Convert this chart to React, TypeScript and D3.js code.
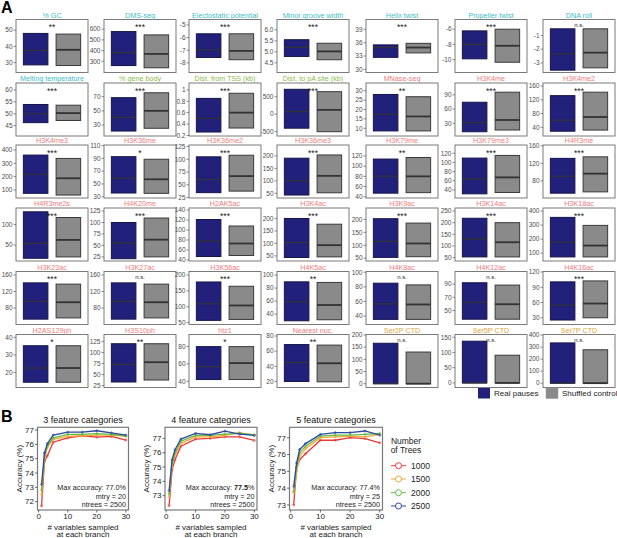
import { useEffect, useRef } from 'react';
import * as d3 from 'd3';

// ---- Panel A data ----
const panelTitles = [
  '% GC', 'DMS-seq', 'Electostatic potential', 'Minor groove width', 'Helix twist', 'Propeller twist', 'DNA roll',
  'Melting temperature', '% gene body', 'Dist. from TSS (kb)', 'Dist. to pA site (kb)', 'MNase-seq', 'H3K4me', 'H3K4me2',
  'H3K4me3', 'H3K36me', 'H3K36me2', 'H3K36me3', 'H3K79me', 'H3K79me3', 'H4R3me',
  'H4R3me2s', 'H4K20me', 'H2AK5ac', 'H3K4ac', 'H3K9ac', 'H3K14ac', 'H3K18ac',
  'H3K23ac', 'H3K27ac', 'H3K56ac', 'H4K5ac', 'H4K8ac', 'H4K12ac', 'H4K16ac',
  'H2AS129ph', 'H3S10ph', 'htz1', 'Nearest nuc.', 'Ser2P CTD', 'Ser5P CTD', 'Ser7P CTD',
];

const titleGroups = [
  'dna', 'dna', 'dna', 'dna', 'dna', 'dna', 'dna',
  'dna', 'gene', 'gene', 'gene', 'chrom', 'chrom', 'chrom',
  'chrom', 'chrom', 'chrom', 'chrom', 'chrom', 'chrom', 'chrom',
  'chrom', 'chrom', 'chrom', 'chrom', 'chrom', 'chrom', 'chrom',
  'chrom', 'chrom', 'chrom', 'chrom', 'chrom', 'chrom', 'chrom',
  'chrom', 'chrom', 'chrom', 'chrom', 'pol', 'pol', 'pol',
];

const sigLabels = [
  '**', '***', '***', '***', '***', '***', 'n.s.',
  '***', '***', '***', '***', '**', '***', '***',
  '***', '*', '***', '***', '**', '***', '***',
  '***', '***', '***', '***', '***', '***', '***',
  '***', 'n.s.', '***', '**', 'n.s.', 'n.s.', '***',
  '*', '**', '*', '**', 'n.s.', 'n.s.', 'n.s.',
];

const yLo = [
  23.9, 195, -8.76, 4.06, 29.3, -11.7, -3.7,
  40.7, 14.5, 0.19, -623, 5.9, 3.2, 14.8,
  40, 28, 24, 31, 37.5, 22.6, 41,
  10.8, 16, 38, 29.5, 39, 35.5, 44,
  40, 40, 44, 24, 28.5, 29, 16.7,
  11.4, 20.5, 32.8, 12, -15.6, -15, -36,
];

const yHi = [
  56.6, 691, -4.57, 6.47, 41.2, -4.72, 0.17,
  62.9, 89.3, 1.12, 891, 34.1, 115, 168.7,
  437.6, 111, 128, 244, 141.6, 138, 162,
  140.8, 131.7, 144, 242, 244.5, 263, 422,
  168.6, 168.6, 211, 105.5, 101, 109, 121,
  41.6, 141, 94, 82, 202, 159, 405,
];

const tickLabels = [
  ['30', '40', '50'], ['300', '400', '500', '600'], ['-8', '-7', '-6', '-5'], ['4.5', '5.0', '5.5', '6.0'],
  ['30', '33', '36', '39'], ['-10', '-8', '-6'], ['-3', '-2', '-1'],
  ['45', '50', '55', '60'], ['30', '50', '70'], ['0.2', '0.4', '0.6', '0.8', '1'], ['-500', '0', '500'],
  ['10', '15', '20', '25', '30'], ['30', '60', '90'], ['40', '80', '120', '160'],
  ['100', '200', '300', '400'], ['30', '50', '70', '90', '110'], ['25', '50', '75', '100', '125'],
  ['50', '100', '150', '200'], ['40', '60', '80', '100', '120'], ['40', '60', '80', '100', '120'], ['80', '120', '160'],
  ['50', '100'], ['25', '50', '75', '100', '125'], ['40', '60', '80', '100', '120', '140'], ['50', '100', '150', '200'],
  ['50', '100', '150', '200'], ['50', '100', '150', '200', '250'], ['100', '200', '300', '400'],
  ['80', '120', '160'], ['80', '120', '160'], ['50', '100', '150', '200'], ['40', '60', '80', '100'],
  ['40', '60', '80', '100'], ['50', '70', '90'], ['30', '60', '90', '120'],
  ['20', '30', '40'], ['25', '50', '75', '100', '125'], ['40', '60', '80'], ['20', '40', '60', '80'],
  ['0', '50', '100', '150', '200'], ['0', '50', '100', '150'], ['0', '100', '200', '300', '400'],
];

// [lower hinge, median, upper hinge]
const realStats = [
  [28.6, 37.5, 48.0], [260, 381, 578], [-7.57, -6.98, -5.7], [4.79, 5.2, 5.55], [32.7, 34.9, 35.5], [-9.9, -8.0, -6.22], [-3.53, -2.34, -0.51],
  [46.3, 50.0, 53.9], [21.5, 40.8, 68.6], [0.26, 0.5, 0.85], [-400, 74, 711], [8.6, 17.5, 28.0], [12.2, 31.3, 74.4], [28.7, 60.6, 132],
  [75, 218, 362], [35.8, 58.9, 92.7], [34.5, 60.4, 104.8], [43, 100, 191], [47, 80.4, 114], [31.7, 63.9, 109.5], [52, 90.6, 131.5],
  [17.5, 54, 131.5], [21, 55, 100], [47, 78, 121], [43.6, 103.7, 200], [53, 115, 203], [53, 130, 219], [73, 178, 355],
  [53, 96, 141], [53, 96, 141], [57, 109, 178], [29.7, 59, 89.6], [35.5, 56.7, 85], [37, 62.7, 92], [25.5, 54.8, 100.6],
  [14.4, 22.5, 35.2], [33, 73, 120], [42, 57, 80], [20, 45, 68.7], [0, 0, 166], [0, 0, 137], [0, 0, 335],
];

const shufStats = [
  [28.2, 37.9, 47.6], [239, 369, 547], [-7.75, -7.05, -5.7], [4.64, 5.02, 5.39], [33.7, 34.9, 35.85], [-10.35, -8.18, -6.0], [-3.36, -2.25, -0.51],
  [47.2, 50.3, 53.6], [25.4, 50, 75.5], [0.33, 0.6, 0.94], [-500, 123, 643], [8.6, 16.3, 26.8], [15.8, 37, 95.6], [32, 70, 142],
  [62, 188, 337], [35.3, 57.3, 88.7], [37.5, 67, 107.9], [52, 120, 204], [48, 80, 117], [34.6, 67.5, 115.3], [55, 96.6, 135],
  [20.8, 62.5, 117.5], [25, 62.6, 109.8], [49, 73, 108], [46, 93, 177], [55.6, 107, 186], [53, 116, 200], [73, 154, 298],
  [56, 94, 138], [56, 94, 138], [60, 104, 164.5], [31.3, 54, 88.7], [35.5, 55.9, 82.7], [37, 59.6, 88.5], [29.9, 58, 102.5],
  [14.4, 22.5, 35.2], [37.5, 78, 120], [42, 61, 80], [19.5, 44, 68], [0, 0, 130], [0, 0, 91], [0, 0, 278],
];

const groupNames = ['Real pauses', 'Shuffled control'];

// ---- Panel B data ----
const mtry = [1, 2, 3, 5, 10, 15, 20, 25, 30];
const treeCounts = ['1000', '1500', '2000', '2500'];
const cat3Acc = [
  [71.7, 74.8, 75.2, 76.15, 76.45, 76.6, 76.5, 76.55, 76.3],
  [72.5, 75.0, 75.8, 76.35, 76.55, 76.6, 76.65, 76.65, 76.55],
  [72.8, 75.2, 75.9, 76.45, 76.7, 76.7, 76.75, 76.7, 76.6],
  [73.2, 75.4, 76.05, 76.65, 76.85, 76.85, 76.95, 76.8, 76.65],
];
const cat4Acc = [
  [72.3, 74.8, 75.5, 76.45, 76.95, 77.0, 77.1, 77.1, 76.85],
  [72.9, 75.1, 75.8, 76.65, 77.1, 77.1, 77.2, 77.4, 77.2],
  [73.1, 75.3, 76.0, 76.8, 77.2, 77.2, 77.3, 77.35, 77.25],
  [73.35, 75.5, 76.2, 76.95, 77.35, 77.25, 77.5, 77.3, 77.2],
];
const cat5Acc = [
  [73.0, 75.2, 75.7, 76.05, 76.85, 76.85, 77.0, 76.95, 76.7],
  [73.7, 75.0, 75.9, 76.35, 77.0, 77.05, 77.1, 77.05, 77.2],
  [73.8, 75.3, 76.1, 76.5, 77.1, 77.15, 77.15, 77.2, 77.25],
  [74.1, 75.5, 76.3, 76.65, 77.2, 77.3, 77.3, 77.4, 77.15],
];
const bTitles = ['3 feature categories', '4 feature categories', '5 feature categories'];
const bYLo = [71.42, 72.0, 72.7];
const bYHi = [77.19, 77.77, 77.62];
const bYTicks = [[72, 73, 74, 75, 76, 77], [73, 74, 75, 76, 77], [73, 74, 75, 76, 77]];
const bXTicks = [0, 10, 20, 30];
const maxAcc = ['77.0', '77.5', '77.4'];
const bestMtry = ['20', '20', '25'];
const bestTrees = ['2500', '2500', '2500'];

const FONT = '"Liberation Sans", Arial, Helvetica, sans-serif';

const App = () => {
  const svgRef = useRef<SVGSVGElement>(null);

  useEffect(() => {
    const svg = d3.select(svgRef.current);
    svg.selectAll('*').remove();
    svg.attr('width', 617).attr('height', 538).style('font-family', FONT);
    svg.append('rect').attr('width', 617).attr('height', 538).attr('fill', '#fff');

    const titleColor: Record<string, string> = {
      dna: '#3dbdca',
      gene: '#8dbd4e',
      chrom: '#f07b7b',
      pol: '#e3a43a',
    };
    const fills = ['#21217b', '#8a8a8a'];
    const strokes = ['#15154a', '#3a3a3a'];

    svg.append('text').attr('x', 1).attr('y', 13).style('font-size', '16px').style('font-weight', 'bold').text('A');

    // panel grid
    const colRight = [88, 176, 261, 349, 438, 527, 615];
    const rowTop = [19.5, 83, 145, 208, 271.5, 334.5];
    const boxW = 72;
    const boxH = 53;

    panelTitles.forEach((title, i) => {
      const row = Math.floor(i / 7);
      const col = i % 7;
      const x1 = colRight[col];
      const x0 = x1 - boxW;
      const y0 = rowTop[row];
      const y1 = y0 + boxH;

      const x = d3.scalePoint<string>().domain(groupNames).range([x0, x1]).padding(0.6);
      const y = d3.scaleLinear().domain([yLo[i], yHi[i]]).range([y1, y0]);
      const bw = x.step() * 0.75;

      const g = svg.append('g');
      g.append('rect')
        .attr('x', x0).attr('y', y0).attr('width', boxW).attr('height', boxH)
        .attr('fill', '#fff').attr('stroke', '#7a7a7a').attr('stroke-width', 1);

      tickLabels[i].forEach((lbl) => {
        const ty = y(+lbl);
        g.append('line').attr('x1', x0 - 2.5).attr('x2', x0).attr('y1', ty).attr('y2', ty)
          .attr('stroke', '#444').attr('stroke-width', 0.6);
        g.append('text').attr('x', x0 - 3.5).attr('y', ty).attr('dy', '0.35em')
          .attr('text-anchor', 'end').style('font-size', '6.5px').attr('fill', '#4d4d4d').text(lbl);
      });

      [realStats[i], shufStats[i]].forEach((s, k) => {
        const cx = x(groupNames[k]) as number;
        g.append('rect')
          .attr('x', cx - bw / 2).attr('y', y(s[2]))
          .attr('width', bw).attr('height', y(s[0]) - y(s[2]))
          .attr('fill', fills[k]).attr('stroke', strokes[k]).attr('stroke-width', 1);
        g.append('line')
          .attr('x1', cx - bw / 2).attr('x2', cx + bw / 2)
          .attr('y1', y(s[1])).attr('y2', y(s[1]))
          .attr('stroke', '#333').attr('stroke-width', k === 0 ? 1.2 : 1.8);
      });

      g.append('text').attr('x', (x0 + x1) / 2).attr('y', y0 - 2)
        .attr('text-anchor', 'middle').style('font-size', '7.2px')
        .attr('fill', titleColor[titleGroups[i]]).text(title);

      const ns = sigLabels[i] === 'n.s.';
      g.append('text').attr('x', (x0 + x1) / 2).attr('y', ns ? y0 + 7.5 : y0 + 10.5)
        .attr('text-anchor', 'middle').style('font-size', ns ? '6px' : '8.5px')
        .attr('fill', '#222').text(sigLabels[i]);
    });

    // legend A
    const legA = [478, 546];
    groupNames.forEach((name, k) => {
      svg.append('rect').attr('x', legA[k]).attr('y', 388).attr('width', 12).attr('height', 10.5)
        .attr('fill', fills[k]).attr('stroke', k === 0 ? 'none' : '#999').attr('stroke-width', 0.5);
      svg.append('text').attr('x', legA[k] + 16).attr('y', 396.3).style('font-size', '8px')
        .attr('fill', '#222').text(name);
    });

    // ---- Panel B ----
    svg.append('text').attr('x', 1).attr('y', 421.5).style('font-size', '16px').style('font-weight', 'bold').text('B');

    const lineColors = ['#e53935', '#f5a83a', '#66bb44', '#2c4b9e'];
    const bLeft = [37.5, 165, 289.5];
    const bRight = [128.5, 257, 382.5];
    const bTop = 427.3;
    const bBottom = 510;
    const accSets = [cat3Acc, cat4Acc, cat5Acc];

    bTitles.forEach((title, p) => {
      const left = bLeft[p];
      const right = bRight[p];
      const x = d3.scaleLinear().domain([-0.4, 30.9]).range([left, right]);
      const y = d3.scaleLinear().domain([bYLo[p], bYHi[p]]).range([bBottom, bTop]);
      const g = svg.append('g');

      g.append('rect').attr('x', left).attr('y', bTop).attr('width', right - left).attr('height', bBottom - bTop)
        .attr('fill', '#fff').attr('stroke', '#7a7a7a').attr('stroke-width', 1.2);

      g.append('text').attr('x', (left + right) / 2).attr('y', 423.2).attr('text-anchor', 'middle')
        .style('font-size', '9px').attr('fill', '#111').text(title);

      bYTicks[p].forEach((t) => {
        g.append('line').attr('x1', left - 2.5).attr('x2', left).attr('y1', y(t)).attr('y2', y(t))
          .attr('stroke', '#333').attr('stroke-width', 0.7);
        g.append('text').attr('x', left - 3.5).attr('y', y(t)).attr('dy', '0.35em').attr('text-anchor', 'end')
          .style('font-size', '8px').attr('fill', '#222').text(t);
      });
      bXTicks.forEach((t) => {
        g.append('line').attr('x1', x(t)).attr('x2', x(t)).attr('y1', bBottom).attr('y2', bBottom + 2.5)
          .attr('stroke', '#333').attr('stroke-width', 0.7);
        g.append('text').attr('x', x(t)).attr('y', bBottom + 8.5).attr('text-anchor', 'middle')
          .style('font-size', '8px').attr('fill', '#222').text(t);
      });

      g.append('text')
        .attr('transform', `translate(${left - 16},${(bTop + bBottom) / 2}) rotate(-90)`)
        .attr('text-anchor', 'middle').style('font-size', '8px').attr('fill', '#222').text('Accuracy (%)');

      g.append('text').attr('x', (left + right) / 2).attr('y', 529.5).attr('text-anchor', 'middle')
        .style('font-size', '8px').attr('fill', '#222').text('# variables sampled');
      g.append('text').attr('x', (left + right) / 2).attr('y', 537).attr('text-anchor', 'middle')
        .style('font-size', '8px').attr('fill', '#222').text('at each branch');

      const line = d3.line<number>().x((_, j) => x(mtry[j])).y((d) => y(d));
      accSets[p].forEach((vals, s) => {
        g.append('path').datum(vals).attr('fill', 'none').attr('stroke', lineColors[s])
          .attr('stroke-width', 1.3).attr('d', line);
        g.selectAll(null).data(vals).enter().append('circle')
          .attr('cx', (_, j) => x(mtry[j])).attr('cy', (d) => y(d)).attr('r', 1)
          .attr('fill', 'none').attr('stroke', lineColors[s]).attr('stroke-width', 0.7);
      });

      // annotation
      const ann = g.append('text').attr('x', right - 2.5).attr('y', 490.4).attr('text-anchor', 'end')
        .style('font-size', '7.2px').attr('fill', '#222');
      ann.append('tspan').text('Max accuracy: ');
      ann.append('tspan').style('font-weight', p === 1 ? 'bold' : 'normal').text(maxAcc[p]);
      ann.append('tspan').text('%');
      g.append('text').attr('x', right - 2.5).attr('y', 498.7).attr('text-anchor', 'end')
        .style('font-size', '7.2px').attr('fill', '#222').text(`mtry = ${bestMtry[p]}`);
      g.append('text').attr('x', right - 2.5).attr('y', 507).attr('text-anchor', 'end')
        .style('font-size', '7.2px').attr('fill', '#222').text(`ntrees = ${bestTrees[p]}`);
    });

    // legend B
    svg.append('text').attr('x', 406).attr('y', 443.7).attr('text-anchor', 'middle')
      .style('font-size', '8.5px').attr('fill', '#222').text('Number');
    svg.append('text').attr('x', 406).attr('y', 453).attr('text-anchor', 'middle')
      .style('font-size', '8.5px').attr('fill', '#222').text('of Trees');
    const legY = [465.7, 479, 492.7, 506];
    treeCounts.forEach((n, s) => {
      svg.append('line').attr('x1', 391).attr('x2', 406).attr('y1', legY[s]).attr('y2', legY[s])
        .attr('stroke', lineColors[s]).attr('stroke-width', 1);
      svg.append('circle').attr('cx', 398.5).attr('cy', legY[s]).attr('r', 3)
        .attr('fill', '#fff').attr('stroke', lineColors[s]).attr('stroke-width', 1);
      svg.append('text').attr('x', 411).attr('y', legY[s]).attr('dy', '0.35em')
        .style('font-size', '8.5px').attr('fill', '#222').text(n);
    });
  }, []);

  return <svg ref={svgRef} style={{ position: 'absolute', left: 0, top: 0, display: 'block' }}></svg>;
};

export default App;
